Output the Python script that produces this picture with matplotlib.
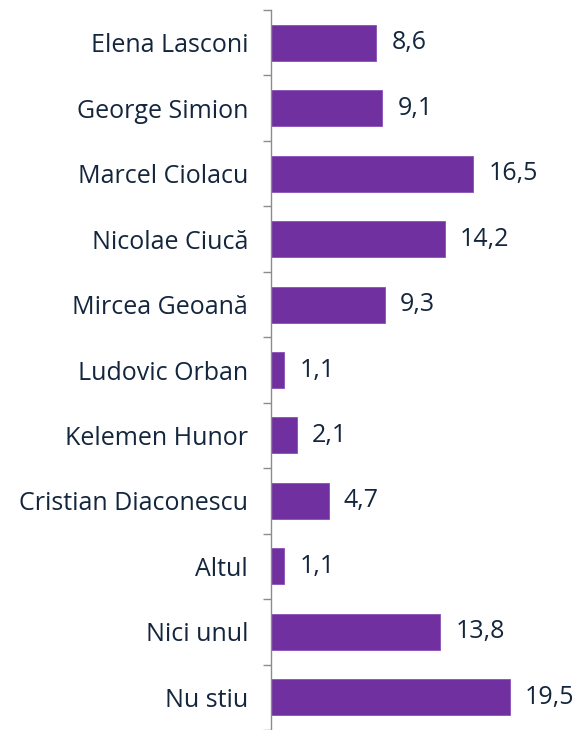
import matplotlib.pyplot as plt
import numpy as np

names = ["Elena Lasconi", "George Simion", "Marcel Ciolacu", "Nicolae Ciucă",
         "Mircea Geoană", "Ludovic Orban", "Kelemen Hunor", "Cristian Diaconescu",
         "Altul", "Nici unul", "Nu stiu"]
values = [8.6, 9.1, 16.5, 14.2, 9.3, 1.1, 2.1, 4.7, 1.1, 13.8, 19.5]

plt.rcParams['font.family'] = ['Open Sans', 'DejaVu Sans']
text_color = "#14263d"

fig = plt.figure(figsize=(5.82, 7.3), dpi=100)
ax = fig.add_axes([271 / 582, 0, 311 / 582, 720 / 730])

y = np.arange(len(names))
ax.barh(y, values, height=0.55, color="#7030A0", edgecolor="#8a4fb8", linewidth=0.6)

for yi, v in zip(y, values):
    ax.text(v + 1.25, yi, f"{v:.1f}".replace(".", ","), va="center", ha="left",
            fontsize=18, color=text_color)

ax.set_ylim(10.456, -0.5)
ax.set_xlim(0, 25.4)

ax.set_yticks(y)
ax.set_yticklabels(names, fontsize=18, color=text_color)
ax.tick_params(axis="y", which="major", length=0, pad=16.5)
ax.set_yticks(np.arange(-0.5, len(names), 1.0), minor=True)
ax.tick_params(axis="y", which="minor", length=6, width=1, color="#8c8c8c")
ax.set_xticks([])

for s in ["top", "right", "bottom"]:
    ax.spines[s].set_visible(False)
ax.spines["left"].set_color("#8c8c8c")
ax.spines["left"].set_linewidth(1)

fig.savefig("out.png", dpi=100)
